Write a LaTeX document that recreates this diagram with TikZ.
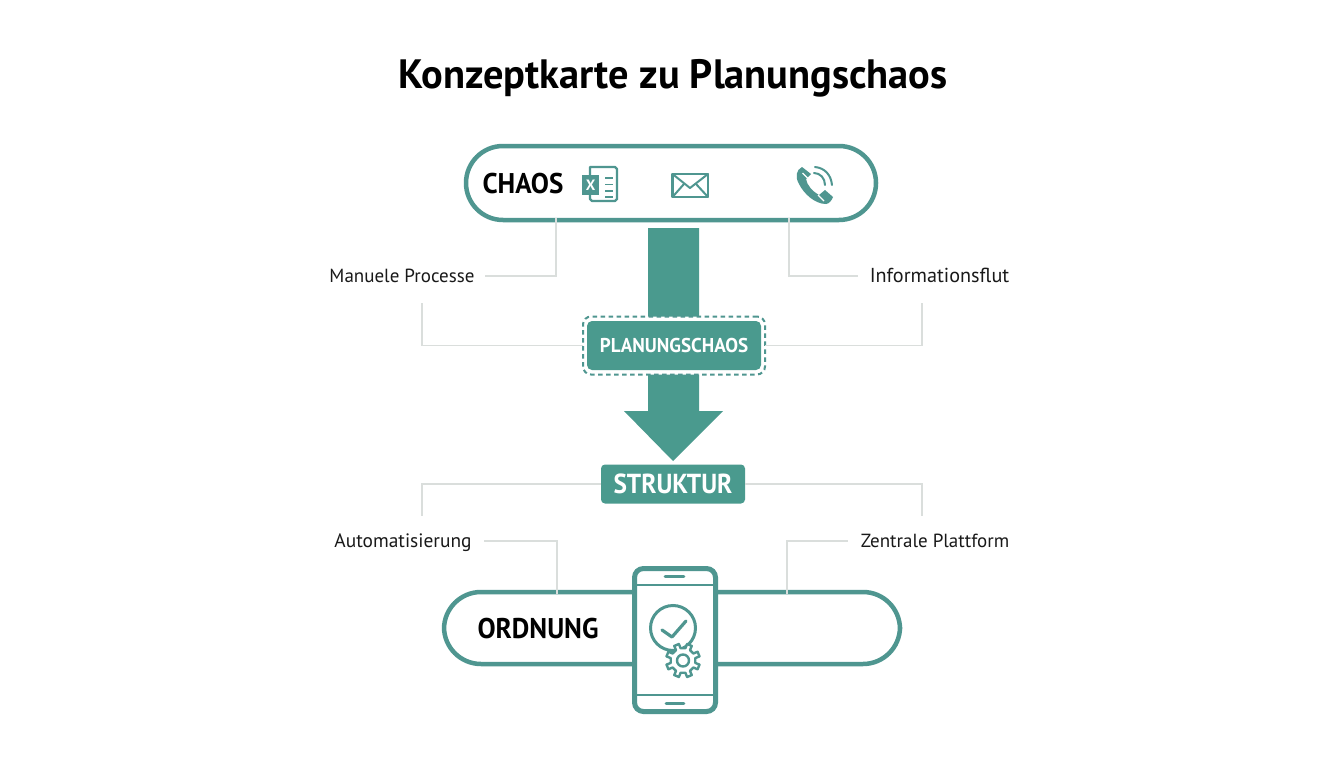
\documentclass[tikz,border=0pt]{standalone}
\usepackage{fontspec}
\setmainfont{PT Sans}
\usetikzlibrary{calc}
\definecolor{teal1}{HTML}{4A9A8E}
\definecolor{teal2}{HTML}{4F9690}
\definecolor{conn}{HTML}{DADEDC}
\tikzset{
  pill/.style={draw=teal2,line width=4.5pt,rounded corners=37pt,fill=white,inner sep=0pt,outer sep=0pt},
  tagbox/.style={fill=teal1,text=white,rounded corners=5pt,inner sep=0pt,outer sep=0pt},
  lbl/.style={text=black!90,inner sep=0pt,anchor=base},
  bigl/.style={font=\bfseries\fontsize{28.5}{32}\selectfont\addfontfeatures{FakeStretch=0.95},text=black,inner sep=0pt},
  conline/.style={draw=conn,line width=1.8pt},
  icon/.style={draw=teal2,line width=2.4pt,line join=round,line cap=round,fill=none},
}
\begin{document}
\begin{tikzpicture}[x=1pt,y=-1pt]
\useasboundingbox (0,0) rectangle (1344,768);
\fill[white] (0,0) rectangle (1344,768);
\node[font=\bfseries\fontsize{41}{48}\selectfont\addfontfeatures{FakeStretch=0.985},text=black,inner sep=0pt] (title) at (673,78) {Konzeptkarte zu Planungschaos};

% pills and central nodes
\node[pill,minimum width=410pt,minimum height=74pt] (chaos) at (671,183) {};
\node[pill,minimum width=456pt,minimum height=72pt] (ordnung) at (672,628) {};
\node[bigl] (chaost) at (523,184) {CHAOS};
\node[bigl] (ordt) at (538,629) {ORDNUNG};

% big arrow
\coordinate (arrowtip) at (673,461);
\fill[teal1] (648,228) -- (699,228) -- (699,411) -- (723,411) -- (arrowtip) -- (624,411) -- (648,411) -- cycle;

\node[fill=white,draw=teal2,line width=2pt,dash pattern=on 4.5pt off 3.5pt,rounded corners=8pt,minimum width=182pt,minimum height=58pt,inner sep=0pt,outer sep=0pt] (planring) at (674,345.5) {};
\node[tagbox,minimum width=174pt,minimum height=49pt,font=\bfseries\fontsize{20}{24}\selectfont\addfontfeatures{FakeStretch=0.955}] (plan) at (674,345.5) {PLANUNGSCHAOS};
\node[tagbox,minimum width=144pt,minimum height=39pt,font=\bfseries\fontsize{27.5}{32}\selectfont\addfontfeatures{FakeStretch=0.92},rounded corners=4pt] (struktur) at (673,484) {STRUKTUR};

% labels
\node[lbl,font=\fontsize{19}{22}\selectfont] (man) at (402,282.5) {Manuele Processe};
\node[lbl,font=\fontsize{20.2}{22}\selectfont] (info) at (939.5,282.5) {Informationsflut};
\node[lbl,font=\fontsize{19.4}{22}\selectfont] (auto) at (403,547.5) {Automatisierung};
\node[lbl,font=\fontsize{19}{22}\selectfont] (zent) at (935,547.5) {Zentrale Plattform};

% connectors
\coordinate (manE) at (485,276);
\coordinate (infoE) at (858,276);
\coordinate (autoE) at (484,541);
\coordinate (zentE) at (848,541);
\coordinate (pL) at (422,303);
\coordinate (pR) at (922,303);
\coordinate (sL) at (422,516);
\coordinate (sR) at (922,516);
\draw[conline] ([xshift=-115pt,yshift=2pt]chaos.south) |- (manE);
\draw[conline] ([xshift=118pt,yshift=2pt]chaos.south) |- (infoE);
\draw[conline] (planring.west) -| (pL);
\draw[conline] (planring.east) -| (pR);
\draw[conline] (struktur.west) -| (sL);
\draw[conline] (struktur.east) -| (sR);
\draw[conline] ([xshift=-115pt,yshift=-2pt]ordnung.north) |- (autoE);
\draw[conline] ([xshift=115pt,yshift=-2pt]ordnung.north) |- (zentE);

% Excel icon
\draw[icon] (590,167) -- (615,167) -- (617,169) -- (617,199) -- (615,201) -- (592,201) -- (590,199) -- cycle;
\fill[teal2] (582,175) rectangle (599,195);
\node[text=white,font=\bfseries\fontsize{15}{16}\selectfont,inner sep=0pt] (xl) at (590.5,185) {X};
\foreach \yy in {178,184.5,191,197}{\draw[icon,line width=1.8pt,line cap=butt] (605,\yy) -- (613,\yy);}

% envelope
\draw[icon] (672.5,174) rectangle (708,197);
\draw[icon,line width=2pt] (672.5,174) -- (690,188) -- (708,174);
\draw[icon,line width=2pt] (672.5,197) -- (684,184);
\draw[icon,line width=2pt] (708,197) -- (696,184);

% telephone
\fill[teal2] (802,167) .. controls (796,170) and (795,177) .. (799,184) .. controls (804,194) and (815,204) .. (826,204) .. controls (829,204) and (832,200) .. (833,197) -- (825,190) -- (819,195) .. controls (812,191) and (807,185) .. (806,179) -- (811,174) -- cycle;
\draw[white,line width=1.2pt] (802.5,173) -- (809,179.5);
\draw[white,line width=1.2pt] (818,195) -- (824,201);
\draw[icon,line width=2pt] (814,173) .. controls (820,173) and (825,178) .. (825,185);
\draw[icon,line width=2pt] (815,167) .. controls (825,168) and (831,175) .. (832,185);

% smartphone
\draw[fill=white,draw=teal2,line width=5pt,rounded corners=9pt] (634.5,568.5) rectangle (715.5,711.5);
\draw[draw=teal2,line width=2.2pt] (634.5,585) -- (715.5,585);
\draw[draw=teal2,line width=2.2pt] (634.5,695) -- (715.5,695);
\draw[draw=teal2,line width=2.8pt,line cap=round] (665,576.5) -- (684,576.5);
\draw[draw=teal2,line width=2.8pt,line cap=round] (666,703.5) -- (684,703.5);
\draw[draw=teal2,line width=3pt] (673,628) circle (22.5pt);
\draw[draw=teal2,line width=3.2pt,line cap=round,line join=round] (662,630) -- (672,637) -- (686,621);
\begin{scope}[shift={(683,660.5)}]
\draw[draw=teal2,fill=white,line width=2.4pt,line join=round]
  (11:12.5pt)
  \foreach \a in {0,45,...,315}{
    -- ({\a+11}:12.5pt) -- ({\a+14}:17pt) -- ({\a+31}:17pt) -- ({\a+34}:12.5pt)
  } -- cycle;
\draw[draw=teal2,line width=2.4pt] (0,0) circle (6pt);
\end{scope}
\end{tikzpicture}
\end{document}
